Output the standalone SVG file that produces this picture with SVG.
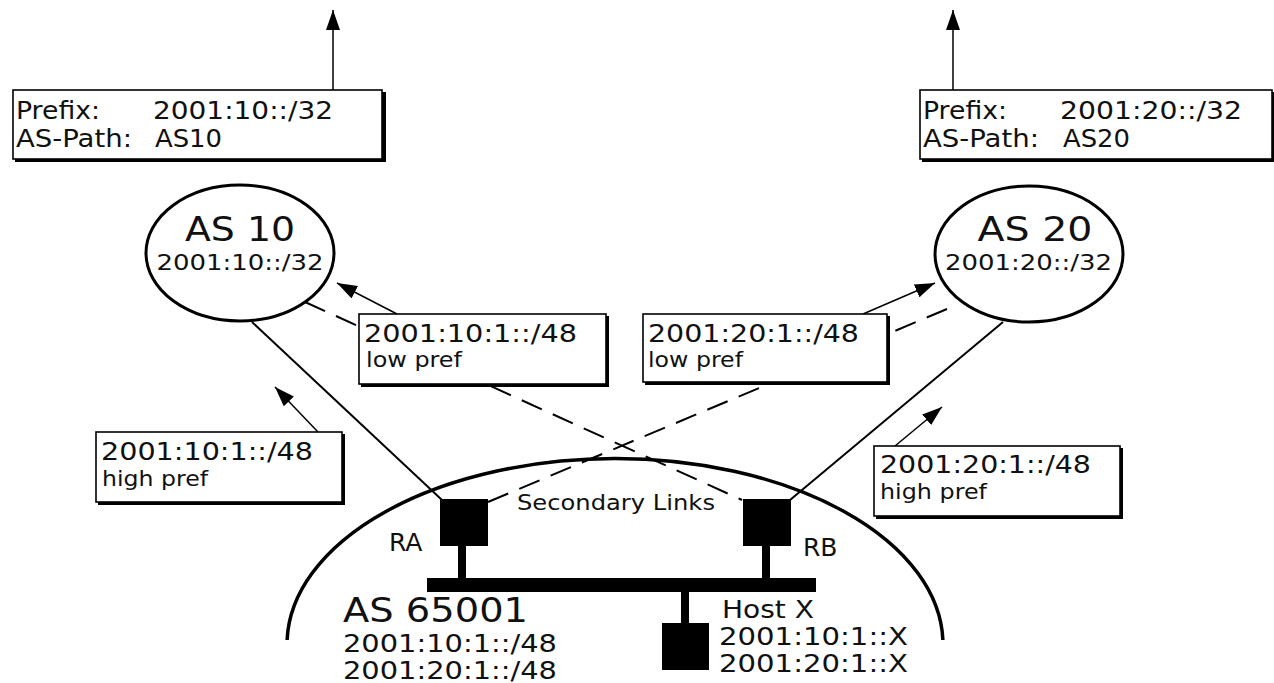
<svg xmlns="http://www.w3.org/2000/svg" width="1274" height="683" viewBox="0 0 1274 683">
<defs>
<style>
text{font-family:"DejaVu Sans","Liberation Sans",sans-serif;fill:#111}
.t25{font-size:25px}
.t24{font-size:24px}
.t22{font-size:22px}
.t21{font-size:21px}
.big{font-size:33px}
.big2{font-size:34px}
.box{fill:#fff;stroke:#000;stroke-width:1.6}
.shadow{fill:#000}
.arr{stroke:#000;stroke-width:1.5;fill:none;marker-end:url(#ah)}
.link{stroke:#000;stroke-width:2;fill:none}
.dash{stroke:#000;stroke-width:2;fill:none;stroke-dasharray:22 12}
.as{fill:#fff;stroke:#000;stroke-width:3}
.blk{fill:#000}
</style>
<marker id="ah" viewBox="0 0 20 14" refX="20" refY="7" markerWidth="20" markerHeight="14" markerUnits="userSpaceOnUse" orient="auto">
<path d="M0,0 L20,7 L0,14 z" fill="#000"/>
</marker>
</defs>
<rect width="1274" height="683" fill="#fff"/>

<g id="as65001">
<path d="M287.1,640 A328,186 0 0 1 942.9,640" fill="none" stroke="#000" stroke-width="3.5"/>
<text class="big2" x="343" y="622" textLength="185" lengthAdjust="spacingAndGlyphs">AS 65001</text>
<text class="t24" x="343" y="652" textLength="214" lengthAdjust="spacingAndGlyphs">2001:10:1::/48</text>
<text class="t24" x="343" y="679" textLength="214" lengthAdjust="spacingAndGlyphs">2001:20:1::/48</text>
<text class="t22" x="517" y="510" textLength="198" lengthAdjust="spacingAndGlyphs">Secondary Links</text>
</g>

<g id="as10">
<ellipse class="as" cx="240" cy="253" rx="94" ry="68"/>
<text class="big" x="240" y="241" text-anchor="middle" textLength="110" lengthAdjust="spacingAndGlyphs">AS 10</text>
<text class="t21" x="240" y="270" text-anchor="middle" textLength="167" lengthAdjust="spacingAndGlyphs">2001:10::/32</text>
</g>

<g id="as20">
<ellipse class="as" cx="1029" cy="254" rx="94" ry="68"/>
<text class="big" x="1035" y="241" text-anchor="middle" textLength="115" lengthAdjust="spacingAndGlyphs">AS 20</text>
<text class="t21" x="1028.5" y="270" text-anchor="middle" textLength="167" lengthAdjust="spacingAndGlyphs">2001:20::/32</text>
</g>

<g id="connectors">
<line class="link" x1="252" y1="322" x2="442" y2="500"/>
<line class="link" x1="1003" y1="322" x2="790" y2="500"/>
<line class="dash" x1="305" y1="302" x2="742" y2="500"/>
<line class="dash" x1="947" y1="309" x2="488" y2="502"/>
<line class="arr" x1="333" y1="90" x2="333" y2="10"/>
<line class="arr" x1="953" y1="90" x2="953" y2="10"/>
<line class="arr" x1="397" y1="314" x2="337" y2="283"/>
<line class="arr" x1="863" y1="314" x2="935" y2="283"/>
<line class="arr" x1="318" y1="432" x2="275" y2="387"/>
<line class="arr" x1="895" y1="446" x2="942" y2="407"/>
</g>

<g id="box-top-left">
<rect class="shadow" x="15" y="92" width="371" height="70"/>
<rect class="box" x="13" y="90" width="369" height="69"/>
<text class="t25" x="16" y="119" textLength="84" lengthAdjust="spacingAndGlyphs">Prefix:</text>
<text class="t25" x="153" y="119" textLength="180" lengthAdjust="spacingAndGlyphs">2001:10::/32</text>
<text class="t25" x="16" y="147" textLength="116" lengthAdjust="spacingAndGlyphs">AS-Path:</text>
<text class="t25" x="155" y="147" textLength="67" lengthAdjust="spacingAndGlyphs">AS10</text>
</g>

<g id="box-top-right">
<rect class="shadow" x="922" y="92" width="356" height="70"/>
<rect class="box" x="920" y="90" width="352" height="69"/>
<text class="t25" x="923" y="119" textLength="84" lengthAdjust="spacingAndGlyphs">Prefix:</text>
<text class="t25" x="1060" y="119" textLength="182" lengthAdjust="spacingAndGlyphs">2001:20::/32</text>
<text class="t25" x="923" y="147" textLength="116" lengthAdjust="spacingAndGlyphs">AS-Path:</text>
<text class="t25" x="1063" y="147" textLength="67" lengthAdjust="spacingAndGlyphs">AS20</text>
</g>

<g id="box-low-left">
<rect class="shadow" x="361" y="316" width="248" height="71"/>
<rect class="box" x="359" y="314" width="247" height="70"/>
<text class="t25" x="364" y="342" textLength="213" lengthAdjust="spacingAndGlyphs">2001:10:1::/48</text>
<text class="t22" x="366" y="367" textLength="96" lengthAdjust="spacingAndGlyphs">low pref</text>
</g>

<g id="box-low-right">
<rect class="shadow" x="645" y="316" width="245" height="69"/>
<rect class="box" x="643" y="314" width="244" height="68"/>
<text class="t25" x="648" y="342" textLength="211" lengthAdjust="spacingAndGlyphs">2001:20:1::/48</text>
<text class="t22" x="648" y="367" textLength="95" lengthAdjust="spacingAndGlyphs">low pref</text>
</g>

<g id="box-high-left">
<rect class="shadow" x="98" y="434" width="247" height="71"/>
<rect class="box" x="96" y="432" width="246" height="70"/>
<text class="t25" x="101" y="460" textLength="212" lengthAdjust="spacingAndGlyphs">2001:10:1::/48</text>
<text class="t22" x="102" y="486" textLength="106" lengthAdjust="spacingAndGlyphs">high pref</text>
</g>

<g id="box-high-right">
<rect class="shadow" x="876" y="448" width="247" height="71"/>
<rect class="box" x="874" y="446" width="246" height="70"/>
<text class="t25" x="880" y="473" textLength="211" lengthAdjust="spacingAndGlyphs">2001:20:1::/48</text>
<text class="t22" x="880" y="499" textLength="107" lengthAdjust="spacingAndGlyphs">high pref</text>
</g>

<g id="bus">
<rect class="blk" x="427" y="578" width="389" height="14"/>
</g>

<g id="router-ra">
<rect class="blk" x="440" y="499" width="48" height="47"/>
<rect class="blk" x="458" y="545" width="8" height="34"/>
<text class="t25" x="389" y="551">RA</text>
</g>

<g id="router-rb">
<rect class="blk" x="743" y="499" width="48" height="47"/>
<rect class="blk" x="762" y="545" width="8" height="34"/>
<text class="t25" x="803" y="556">RB</text>
</g>

<g id="host-x">
<rect class="blk" x="681" y="591" width="8" height="33"/>
<rect class="blk" x="662" y="623" width="47" height="47"/>
<text class="t25" x="722" y="618" textLength="92" lengthAdjust="spacingAndGlyphs">Host X</text>
<text class="t25" x="719" y="645" textLength="189" lengthAdjust="spacingAndGlyphs">2001:10:1::X</text>
<text class="t25" x="719" y="672" textLength="189" lengthAdjust="spacingAndGlyphs">2001:20:1::X</text>
</g>
</svg>
